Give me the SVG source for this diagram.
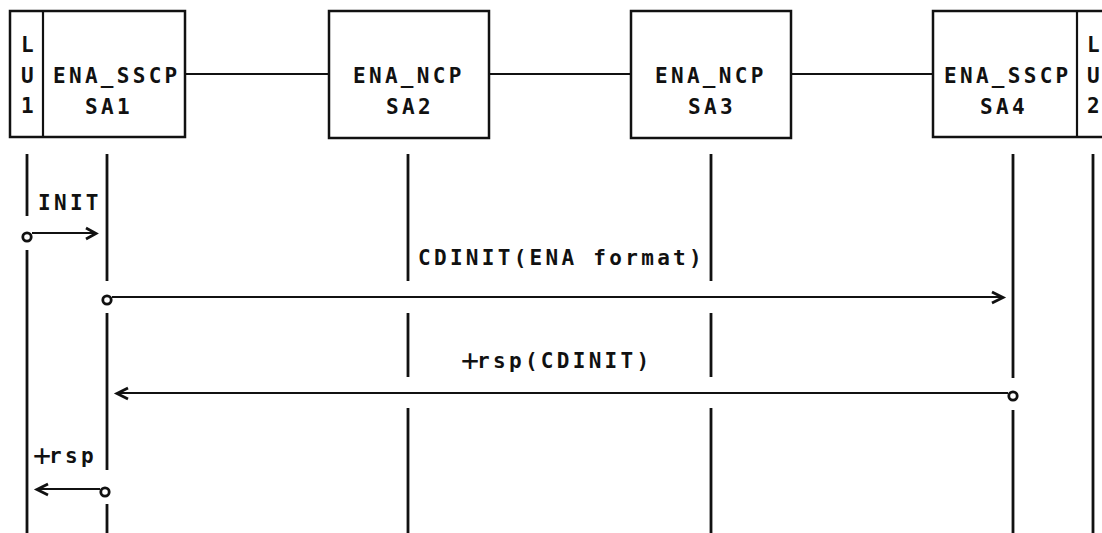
<svg xmlns="http://www.w3.org/2000/svg" width="1102" height="533" viewBox="0 0 1102 533">
<style>
  text { font-family: "DejaVu Sans Mono", "Liberation Mono", monospace; font-size: 21px; font-weight: bold; letter-spacing: 3.3px; fill: #111; }
  .box { fill: #fff; stroke: #111; stroke-width: 2.5; }
  .link { stroke: #111; stroke-width: 2.2; fill: none; }
  .life { stroke: #111; stroke-width: 2.8; fill: none; }
  .msg { stroke: #111; stroke-width: 2.2; fill: none; }
  .head { stroke: #111; stroke-width: 2.8; fill: none; stroke-linejoin: miter; }
  .dot { stroke: #111; stroke-width: 2.8; fill: #fff; }
  .big { font-size: 30px; font-weight: normal; letter-spacing: -2px; }
</style>
<rect width="1102" height="533" fill="#fff"/>

<g id="links">
  <line class="link" x1="185" y1="74" x2="329" y2="74"/>
  <line class="link" x1="489" y1="74" x2="631" y2="74"/>
  <line class="link" x1="791" y1="74" x2="933" y2="74"/>
</g>

<g id="node-sa1">
  <rect class="box" x="10" y="11" width="175" height="126"/>
  <line class="link" x1="43" y1="11" x2="43" y2="137" stroke-width="2.5"/>
  <text x="21" y="52">L</text>
  <text x="21" y="83">U</text>
  <text x="21" y="113">1</text>
  <text x="53" y="83">ENA_SSCP</text>
  <text x="85" y="114">SA1</text>
</g>

<g id="node-sa2">
  <rect class="box" x="329" y="11" width="160" height="127"/>
  <text x="353" y="83">ENA_NCP</text>
  <text x="386" y="114">SA2</text>
</g>

<g id="node-sa3">
  <rect class="box" x="631" y="11" width="160" height="127"/>
  <text x="655" y="83">ENA_NCP</text>
  <text x="688" y="114">SA3</text>
</g>

<g id="node-sa4">
  <rect class="box" x="933" y="11" width="180" height="126"/>
  <line class="link" x1="1077" y1="11" x2="1077" y2="137" stroke-width="2.5"/>
  <text x="944" y="83">ENA_SSCP</text>
  <text x="980" y="114">SA4</text>
  <text x="1087" y="52">L</text>
  <text x="1087" y="83">U</text>
  <text x="1087" y="113">2</text>
</g>

<g id="lifelines">
  <path class="life" d="M27 154V216M27 250V533"/>
  <path class="life" d="M107 154V281M107 313V470M107 504V533"/>
  <path class="life" d="M408 154V281M408 313V377M408 408V533"/>
  <path class="life" d="M711 154V281M711 313V377M711 408V533"/>
  <path class="life" d="M1013 154V378M1013 410V533"/>
  <path class="life" d="M1093 154V533"/>
</g>

<g id="connectors">
  <!-- INIT -->
  <line class="msg" x1="32" y1="233" x2="94" y2="233"/>
  <polyline class="head" points="86,228 96,233.5 86,239"/>
  <circle class="dot" cx="27" cy="237" r="4.2"/>
  <!-- CDINIT -->
  <line class="msg" x1="112" y1="297" x2="1001" y2="297"/>
  <polyline class="head" points="992,292 1003,297.5 992,303"/>
  <circle class="dot" cx="107" cy="300" r="4.2"/>
  <!-- rsp(CDINIT) -->
  <line class="msg" x1="119" y1="393" x2="1008" y2="393"/>
  <polyline class="head" points="128,388 117,393.5 128,399"/>
  <circle class="dot" cx="1013" cy="396" r="4.2"/>
  <!-- rsp -->
  <line class="msg" x1="39" y1="489" x2="100" y2="489"/>
  <polyline class="head" points="48,484 37,489.5 48,495"/>
  <circle class="dot" cx="105" cy="492" r="4.2"/>
</g>

<g id="labels">
  <text x="38" y="210">INIT</text>
  <text x="418" y="265">CDINIT(ENA format)</text>
  <text x="461" y="368"><tspan class="big" dy="3">+</tspan><tspan dy="-3">rsp(CDINIT)</tspan></text>
  <text x="33" y="463"><tspan class="big" dy="3">+</tspan><tspan dy="-3">rsp</tspan></text>
</g>
</svg>
